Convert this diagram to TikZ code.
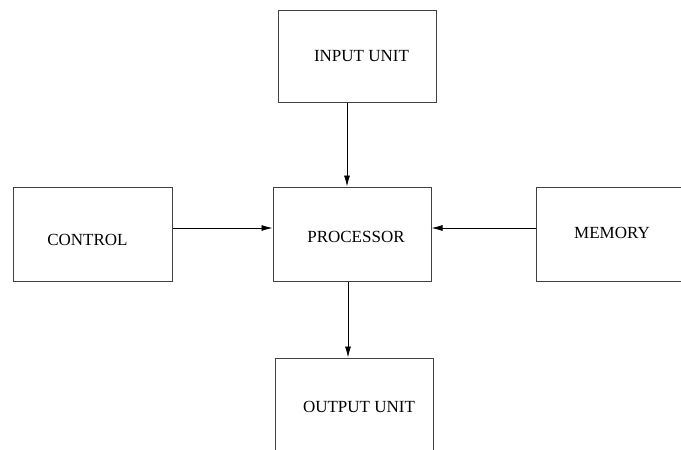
\documentclass[tikz,border=0pt]{standalone}
\usepackage{fontspec}
\setmainfont{Liberation Serif}
\usetikzlibrary{arrows.meta}
\definecolor{boxline}{rgb}{0.25, 0.25, 0.25}

\begin{document}
\begin{tikzpicture}[x=1pt, y=-1pt,
    unit/.style={draw=boxline, line width=1pt, rectangle, inner sep=0pt, minimum width=158pt, minimum height=94pt},
    lbl/.style={font=\fontsize{17}{20}\selectfont, inner sep=0pt},
    flow/.style={-{Latex[length=11pt,width=6pt]}, line width=0.8pt}]
            \clip (0,0) rectangle (681,450);
            % Units
            \node[unit, minimum height=92pt] (input) at (357,56) {};
            \node[unit] (proc) at (352,234) {};
            \node[unit, minimum width=159pt] (ctrl) at (92.5,234) {};
            \node[unit] (mem) at (615,234) {};
            \node[unit, minimum height=96pt] (output) at (354,406) {};

            % Labels
            \node[lbl] (inputtxt) at (361.5,56) {INPUT UNIT};
            \node[lbl] (proctxt) at (356,237) {PROCESSOR};
            \node[lbl] (ctrltxt) at (87.5,240) {CONTROL};
            \node[lbl] (memtxt) at (612,233) {MEMORY};
            \node[lbl] (outputtxt) at (359,407) {OUTPUT UNIT};

            % Data flow
            \draw[flow] ([xshift=-10pt]input.south) -- ([xshift=-5pt]proc.north);
            \draw[flow] ([yshift=6pt]ctrl.east) -- ([yshift=6pt]proc.west);
            \draw[flow] ([yshift=6pt]mem.west) -- ([yshift=6pt]proc.east);
            \draw[flow] ([xshift=-4pt]proc.south) -- ([xshift=-6pt]output.north);

        \end{tikzpicture}
\end{document}
